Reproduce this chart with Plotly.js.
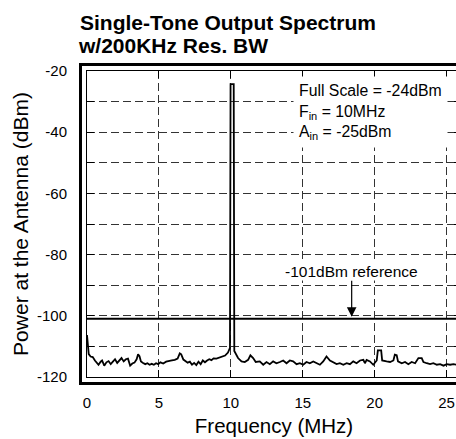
<!DOCTYPE html>
<html>
<head>
<meta charset="utf-8">
<script src="https://cdn.plot.ly/plotly-3.0.1.min.js"></script>
<style>
  html, body { margin: 0; padding: 0; overflow: hidden; background: #fff; }
  #chart { width: 481px; height: 439px; }
</style>
</head>
<body>
<div id="chart"></div>
<script>
// ---- data ----
const freqMHz = [
  0.0, 0.05, 0.12, 0.25, 0.4, 0.55, 0.7, 0.8, 0.95, 1.05, 1.2, 1.35, 1.5, 1.65, 1.8, 1.95,
  2.1, 2.25, 2.4, 2.55, 2.7, 2.85, 3.0, 3.15, 3.3, 3.45, 3.55, 3.65, 3.75, 3.9, 4.05, 4.2,
  4.35, 4.5, 4.65, 4.8, 4.95, 5.1, 5.3, 5.5, 5.7, 5.9, 6.1, 6.3, 6.45, 6.55, 6.7, 6.85,
  7.0, 7.15, 7.3, 7.45, 7.6, 7.75, 7.9, 8.05, 8.2, 8.35, 8.5, 8.65, 8.8, 9.0, 9.2, 9.4,
  9.6, 9.8, 9.94, 9.98, 10.2, 10.24, 10.32, 10.5, 10.74, 10.97, 11.2, 11.36, 11.55, 11.73,
  12.01, 12.25, 12.48, 12.71, 12.94, 13.17, 13.41, 13.64, 13.87, 14.1, 14.33, 14.57, 14.8,
  15.03, 15.26, 15.49, 15.73, 15.96, 16.19, 16.42, 16.65, 16.89, 17.12, 17.35, 17.58,
  17.82, 18.05, 18.28, 18.51, 18.74, 18.98, 19.21, 19.32, 19.44, 19.67, 19.9, 20.14,
  20.22, 20.45, 20.52, 20.83, 21.07, 21.3, 21.4, 21.53, 21.62, 21.88, 22.11, 22.34,
  22.57, 22.81, 23.04, 23.27, 23.39, 23.62, 23.85, 24.08, 24.32, 24.55, 24.78, 25.01,
  25.24, 25.48, 25.7, 25.95
];
const powerDbm = [
  -106.3, -109.5, -112.5, -113.3, -113.5, -114.6, -115.5, -116.0, -115.0, -114.6, -116.3, -115.2, -114.8, -115.8, -115.0, -114.2,
  -115.4, -114.6, -113.8, -114.9, -114.2, -114.0, -116.3, -115.6, -115.3, -114.2, -112.6, -113.2, -114.9, -115.4, -115.8, -115.5,
  -116.0, -115.7, -116.0, -115.5, -115.8, -115.2, -115.6, -115.0, -114.9, -114.6, -114.4, -114.0, -112.3, -112.6, -114.3, -114.9,
  -115.3, -115.0, -116.0, -115.4, -116.1, -115.0, -115.8, -114.6, -115.2, -114.6, -114.2, -114.5, -113.9, -114.0, -113.6, -113.2,
  -113.0, -112.0, -110.5, -24.3, -24.3, -111.5, -112.2, -113.8, -114.9, -115.1, -114.4, -112.9, -113.8, -115.1,
  -114.9, -116.0, -115.1, -115.8, -114.9, -115.5, -115.1, -114.6, -115.5, -114.6, -114.9, -115.8, -115.5,
  -116.0, -115.1, -115.5, -114.9, -115.5, -116.0, -114.9, -113.3, -114.6, -115.1, -115.8, -115.5,
  -116.0, -115.5, -115.8, -114.9, -115.5, -114.6, -114.4, -115.5, -114.4, -114.9, -116.0, -114.6,
  -111.3, -111.3, -114.6, -114.9, -115.1, -114.6, -112.7, -112.9, -114.9, -115.5, -115.1, -115.8,
  -115.1, -115.5, -113.8, -113.8, -115.1, -115.5, -115.8, -115.5, -116.0, -115.8, -116.3, -115.8,
  -116.0, -115.8, -116.0, -115.9
];
const referenceLevel = -101;          // dBm
const referenceArrowAt = 18.4;        // MHz
const xTickVals = [0, 5, 10, 15, 20, 25];
const yTickVals = [-120, -110, -100, -90, -80, -70, -60, -50, -40, -30, -20];
const yTickText = ['-120', '', '-100', '', '-80', '', '-60', '', '-40', '', '-20'];
const titleLines = ['Single-Tone Output Spectrum', 'w/200KHz Res. BW'];
const infoLines = ['Full Scale = -24dBm', 'F<sub>in</sub> = 10MHz', 'A<sub>in</sub> = -25dBm'];
const refLabel = '-101dBm reference';

// ---- layout geometry (pixels) ----
const W = 481, H = 439;
const M = {l: 87, r: 20, t: 71, b: 62};
const plotW = W - M.l - M.r, plotH = H - M.t - M.b;
const gap = 6.5; // distance from inner axis frame to the thick outer frame
const FONT = 'Arial, "Liberation Sans", sans-serif';
const TITLE_SIZE = 21;

const axisCommon = {
  showline: true, linecolor: '#000', linewidth: 1, mirror: 'ticks',
  ticks: 'inside', ticklen: 7, tickwidth: 1, tickcolor: '#000',
  showgrid: true, gridcolor: '#333', gridwidth: 1, griddash: '8px,4px',
  zeroline: false, fixedrange: true,
  tickfont: {family: FONT, size: 15, color: '#000'}
};

const data = [{
  type: 'scatter', mode: 'lines', x: freqMHz, y: powerDbm,
  line: {color: '#000', width: 1.8}, hoverinfo: 'skip', cliponaxis: true
}];

const layout = {
  width: W, height: H, margin: M,
  paper_bgcolor: '#fff', plot_bgcolor: '#fff', showlegend: false,
  font: {family: FONT, color: '#000'},
  title: {
    text: titleLines[0],
    font: {family: FONT, size: TITLE_SIZE, color: '#000', weight: 'bold'},
    xref: 'container', yref: 'container', x: 80 / W, xanchor: 'left',
    y: 1 - 29.5 / H, yanchor: 'bottom', pad: {t: 0, b: 0, l: 0, r: 0}
  },
  xaxis: Object.assign({}, axisCommon, {
    range: [0, 26], tickvals: xTickVals, ticklabelstandoff: 12,
    title: {text: 'Frequency (MHz)', font: {family: FONT, size: 20.5, color: '#000'}, standoff: 8}
  }),
  yaxis: Object.assign({}, axisCommon, {
    range: [-120, -20], tickvals: yTickVals, ticktext: yTickText, ticklabelstandoff: 16,
    title: {text: 'Power at the Antenna (dBm)', font: {family: FONT, size: 21, color: '#000'}, standoff: 2}
  }),
  shapes: [
    {type: 'rect', xref: 'paper', yref: 'paper',
     x0: -gap / plotW, x1: 1 + gap / plotW, y0: -gap / plotH, y1: 1 + gap / plotH,
     line: {color: '#000', width: 3}, fillcolor: 'rgba(0,0,0,0)', layer: 'above'},
    {type: 'line', xref: 'paper', yref: 'y', x0: 0, x1: 1, y0: referenceLevel, y1: referenceLevel,
     line: {color: '#000', width: 2}, layer: 'above'}
  ],
  annotations: [
    {text: titleLines[1], xref: 'paper', yref: 'paper',
     x: (77 - M.l) / plotW, y: 1 + (M.t - 45.5) / plotH, xanchor: 'left', yanchor: 'middle',
     showarrow: false, borderpad: 0, font: {family: FONT, size: TITLE_SIZE, color: '#000', weight: 'bold'}},
    {text: infoLines.join('<br>'), xref: 'x', yref: 'y', x: 14.3, y: -21.5,
     xanchor: 'left', yanchor: 'top', align: 'left', showarrow: false,
     bgcolor: '#fff', borderpad: 5, font: {family: FONT, size: 15.8, color: '#000'}},
    {text: refLabel, xref: 'x', yref: 'y', x: referenceArrowAt, y: referenceLevel,
     ax: 0, ay: -47, showarrow: true, arrowhead: 2, arrowsize: 1.6, arrowwidth: 1.2,
     arrowcolor: '#000', standoff: 2, bgcolor: '#fff', borderpad: 0,
     font: {family: FONT, size: 15.5, color: '#000'}}
  ]
};

Plotly.newPlot('chart', data, layout, {staticPlot: true, displayModeBar: false});
</script>
</body>
</html>
